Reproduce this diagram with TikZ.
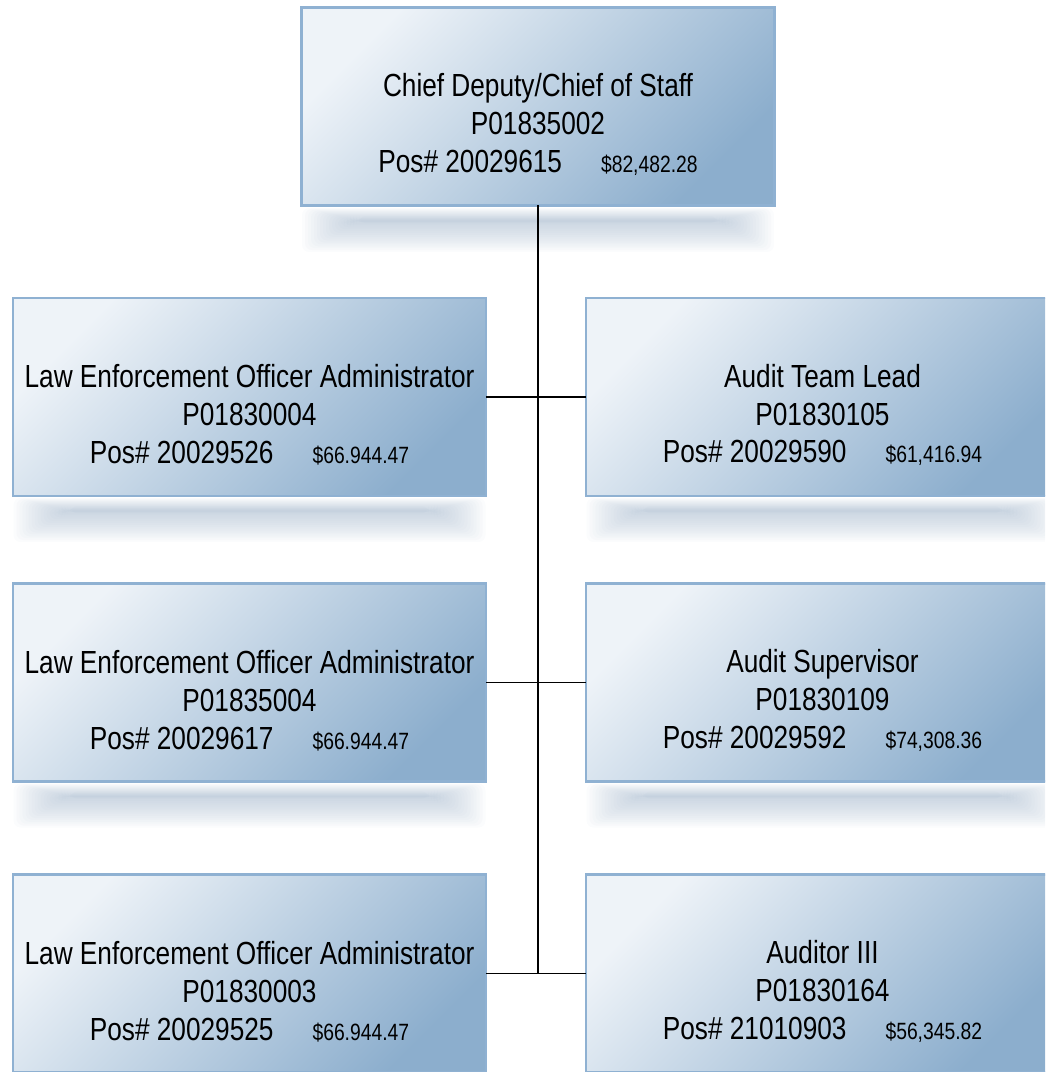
\documentclass[tikz,border=0pt]{standalone}
\usepackage{fontspec}
\setmainfont{Liberation Sans}[FakeStretch=0.82]
\usetikzlibrary{positioning}

\definecolor{boxlight}{RGB}{238,243,248}
\definecolor{boxdark}{RGB}{140,174,205}
\definecolor{boxline}{RGB}{143,177,210}
\definecolor{shadowgrey}{RGB}{150,172,196}
\newcommand{\salary}[1]{\hspace{0.78cm}{\fontsize{13.4}{15}\selectfont\$#1}}

\begin{document}
\begin{tikzpicture}[x=0.02cm, y=-0.02cm,
  orgbox/.style={rectangle, draw=boxline, line width=1.2pt, top color=boxlight, bottom color=boxdark, shading angle=45, minimum width=9.46cm, minimum height=3.96cm, inner sep=0pt, outer sep=0pt},
  orgtext/.style={align=center, font=\fontsize{18.2}{21.5}\selectfont, inner sep=0pt},
  shadowlayer/.style={fill=shadowgrey, fill opacity=0.04, draw=none, rounded corners=4pt},
  conn/.style={draw=black, line width=1.1pt}]
  \useasboundingbox (0,0) rectangle (1045,1072);
  \clip (0,0) rectangle (1045,1072);
  % soft shadow under each box, built from stacked layers
  \foreach \p in {{538,206},{249.5,496},{249.5,781.5},{249.5,1072.5},{822.5,496},{822.5,781.5},{822.5,1072.5}}
    \foreach \k in {0,...,19}
      \fill[shadowlayer, shift={(\p)}] (-236+\k*3,2+\k*0.8) rectangle (236-\k*3,46-\k*1.9);
  % boxes
  \node[orgbox] (chief) at (538,106.5) {};
  \node[orgbox] (leoA) at (249.5,397) {};
  \node[orgbox] (leoB) at (249.5,682.5) {};
  \node[orgbox] (leoC) at (249.5,973.5) {};
  \node[orgbox] (lead) at (822.5,397) {};
  \node[orgbox] (super) at (822.5,682.5) {};
  \node[orgbox] (auditor) at (822.5,973.5) {};
  % texts
  \node[orgtext] (chief-text) at ([yshift=-0.36cm]chief.center) {Chief Deputy/Chief of Staff\\P01835002\\Pos\# 20029615\salary{82,482.28}};
  \node[orgtext] (leoA-text) at ([yshift=-0.36cm]leoA.center) {Law Enforcement Officer Administrator\\P01830004\\Pos\# 20029526\salary{66.944.47}};
  \node[orgtext] (leoB-text) at ([yshift=-0.36cm]leoB.center) {Law Enforcement Officer Administrator\\P01835004\\Pos\# 20029617\salary{66.944.47}};
  \node[orgtext] (leoC-text) at ([yshift=-0.36cm]leoC.center) {Law Enforcement Officer Administrator\\P01830003\\Pos\# 20029525\salary{66.944.47}};
  \node[orgtext] (lead-text) at ([yshift=-0.36cm]lead.center) {Audit Team Lead\\P01830105\\Pos\# 20029590\salary{61,416.94}};
  \node[orgtext] (super-text) at ([yshift=-0.36cm]super.center) {Audit Supervisor\\P01830109\\Pos\# 20029592\salary{74,308.36}};
  \node[orgtext] (auditor-text) at ([yshift=-0.36cm]auditor.center) {Auditor III\\P01830164\\Pos\# 21010903\salary{56,345.82}};
  % connectors
  \draw[conn] (chief.south) -- (chief.south |- leoC.east);
  \draw[conn] (leoA.east) -- (lead.west);
  \draw[conn] (leoB.east) -- (super.west);
  \draw[conn] (leoC.east) -- (auditor.west);
\end{tikzpicture}
\end{document}
